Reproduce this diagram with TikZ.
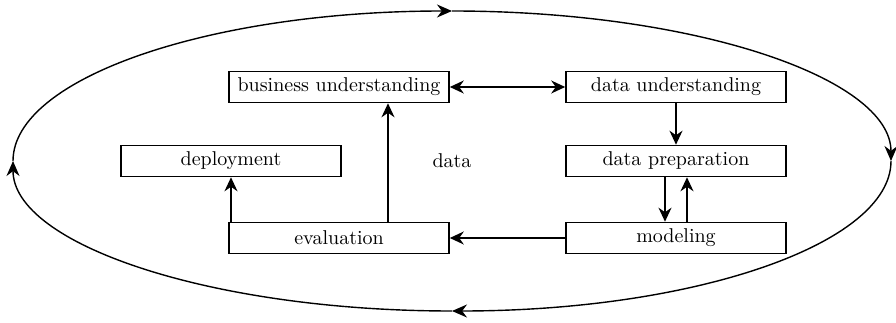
\documentclass[tikz,border=0pt]{standalone}
\usepackage{tikz}
\usetikzlibrary{arrows.meta,positioning,calc}
\tikzset{
  box/.style={draw,line width=0.8pt,minimum width=110pt,minimum height=15.5pt,inner sep=2pt,font=\normalsize},
  arr/.style={-{Stealth[length=7pt,width=6.5pt]},line width=0.75pt},
  darr/.style={{Stealth[length=7pt,width=6.5pt]}-{Stealth[length=7pt,width=6.5pt]},line width=0.75pt},
  ring/.style={-{Stealth[length=7.5pt,width=6.5pt]},line width=0.7pt},
}
\begin{document}
\begin{tikzpicture}[x=0.5pt,y=0.5pt]
\useasboundingbox (0,0) rectangle (896,322);
% outer cycle
\foreach \sx/\sy/\a in {13/161/180,452/311/90,891/161/0,452/11/-90}
{\draw[ring] (\sx,\sy) arc[start angle=\a,delta angle=-90,x radius=439,y radius=150];}
% phases
\node[box] (bu) at (339,235) {business understanding};
\node[box] (du) at (676,235) {data understanding};
\node[box] (dp) at (676,161) {data preparation};
\node[box] (mo) at (676,84) {modeling};
\node[box] (ev) at (339,84) {evaluation};
\node[box] (de) at (231,161) {deployment};
\node (data) at (452,161) {data};
% flow
\draw[darr] (bu.east) -- (du.west);
\draw[arr] (du.south) -- (dp.north);
\draw[arr] ([xshift=-5.5pt]dp.south) -- ([xshift=-5.5pt]mo.north);
\draw[arr] ([xshift=5.5pt]mo.north) -- ([xshift=5.5pt]dp.south);
\draw[arr] (mo.west) -- (ev.east);
\draw[arr] ([xshift=24.5pt]ev.north) -- ([xshift=24.5pt]bu.south);
\draw[arr] (ev.north -| de.south) -- (de.south);
\end{tikzpicture}
\end{document}
